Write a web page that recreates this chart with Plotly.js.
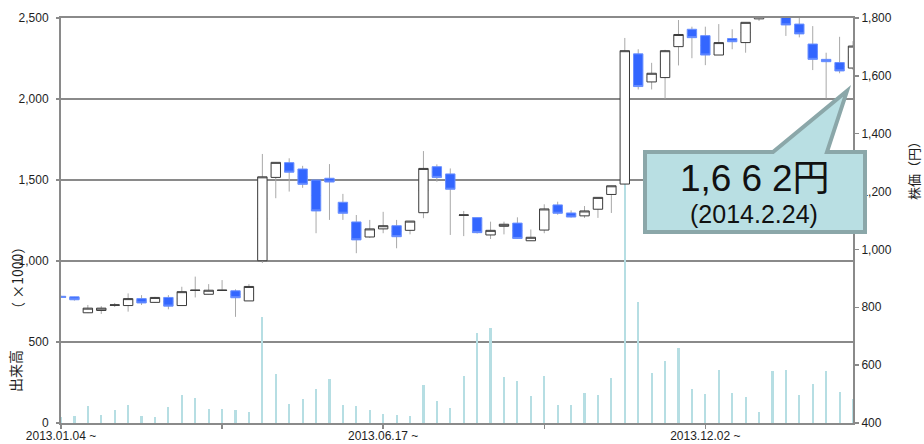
<!DOCTYPE html>
<html>
<head>
<meta charset="utf-8">
<script src="https://cdn.plot.ly/plotly-3.0.1.min.js"></script>
<style>
html,body{margin:0;padding:0;background:#fff;}
#chart{width:924px;height:444px;}
</style>
</head>
<body>
<div id="chart"></div>
<script>
// Weekly prices (円), 2013.01.04 ~ 2014.02.24
var openPrice  = [838,836,781,789,807,806,830,817,834,806,858,845,858,857,822,961,1249,1300,1278,1240,1246,1163,1095,1043,1071,1082,1066,1127,1286,1261,1118,1110,1050,1080,1091,1030,1067,1154,1126,1116,1139,1190,1226,1676,1579,1594,1701,1761,1739,1672,1729,1715,1797,1840,1830,1779,1710,1657,1646,1627];
var highPrice  = [840,836,808,804,815,848,842,836,842,871,906,880,894,862,880,1330,1301,1315,1289,1240,1295,1192,1119,1102,1130,1102,1098,1340,1294,1280,1133,1110,1096,1096,1111,1069,1156,1165,1135,1150,1180,1220,1731,1692,1645,1690,1793,1770,1770,1779,1761,1785,1860,1880,1840,1805,1772,1680,1735,1720];
var lowPrice   = [834,823,780,777,801,785,808,815,793,806,834,845,857,767,822,953,1177,1200,1213,1056,1102,1102,987,1040,1056,1004,1052,1108,1234,1050,1046,1055,1036,1052,1036,1030,1056,1120,1110,1109,1109,1126,1226,1553,1553,1521,1636,1661,1637,1672,1692,1680,1790,1820,1738,1733,1620,1522,1609,1620];
var closePrice = [834,826,797,797,808,830,815,834,804,854,859,859,859,833,872,1251,1301,1267,1225,1133,1233,1125,1033,1071,1082,1044,1098,1280,1249,1208,1119,1058,1066,1087,1038,1042,1140,1125,1112,1133,1180,1220,1687,1563,1609,1687,1743,1732,1672,1715,1718,1785,1840,1860,1776,1745,1657,1649,1617,1703];
// Weekly volume (×1000)
var volume = [40,43,105,49,80,111,43,37,97,173,154,88,86,80,68,656,304,118,148,209,272,111,105,80,56,47,43,236,136,93,290,557,586,286,261,167,290,111,111,185,173,278,1800,749,307,383,463,210,179,325,185,160,66,323,327,175,241,319,193,148];
// Category axis labels
var tickPositions = [0,12,24,36,48];
var tickLabels = ["2013.01.04 ~","","2013.06.17 ~","","2013.12.02 ~"];

var weekIdx = volume.map(function(_, i){ return i; });
var bodyTop = openPrice.map(function(o, i){ return Math.max(o, closePrice[i]); });
var bodyBot = openPrice.map(function(o, i){ return Math.min(o, closePrice[i]); });
var bodyMid = openPrice.map(function(o, i){ return (o + closePrice[i]) / 2; });

var volTrace = {
  type: 'bar', x: weekIdx, y: volume, yaxis: 'y', width: 0.16,
  marker: {color: '#b6dee3', line: {width: 0}}, hoverinfo: 'skip'
};
// wicks (high-low), drawn behind the bodies
var wickTrace = {
  type: 'candlestick', x: weekIdx, open: bodyMid, close: bodyMid,
  high: highPrice, low: lowPrice, yaxis: 'y2', whiskerwidth: 0,
  increasing: {line: {color: '#a9a9a9', width: 1}, fillcolor: 'rgba(0,0,0,0)'},
  decreasing: {line: {color: '#a9a9a9', width: 1}, fillcolor: 'rgba(0,0,0,0)'},
  hoverinfo: 'skip'
};
var bodyTrace = {
  type: 'candlestick', x: weekIdx, open: openPrice, close: closePrice,
  high: bodyTop, low: bodyBot, yaxis: 'y2', whiskerwidth: 0,
  increasing: {line: {color: '#3a3a3a', width: 1}, fillcolor: '#ffffff'},
  decreasing: {line: {color: '#6a90ff', width: 1}, fillcolor: '#3366ff'},
  hoverinfo: 'skip'
};

var L = 61, R = 853, T = 18, B = 423;
function px(x){ return (x - L) / (R - L); }
function py(y){ return (B - y) / (B - T); }

var calloutPath = 'M ' + px(645) + ',' + py(232) +
  ' L ' + px(645) + ',' + py(152) +
  ' L ' + px(773) + ',' + py(152) +
  ' L ' + px(847) + ',' + py(91) +
  ' L ' + px(827) + ',' + py(152) +
  ' L ' + px(865) + ',' + py(152) +
  ' L ' + px(865) + ',' + py(232) + ' Z';

var axisGray = '#8a8a8a';
var layout = {
  width: 924, height: 444,
  margin: {l: L, r: 924 - R, t: T, b: 444 - B, pad: 0},
  paper_bgcolor: '#ffffff', plot_bgcolor: '#ffffff',
  showlegend: false, boxgap: 0, boxmode: 'overlay', bargap: 0,
  font: {family: 'Liberation Sans, Arial, sans-serif', size: 12, color: '#1e1e1e'},
  xaxis: {
    range: [0, 59], tickmode: 'array', tickvals: tickPositions, ticktext: tickLabels,
    ticks: 'outside', ticklen: 4, tickwidth: 1.5, tickcolor: axisGray,
    ticklabelstandoff: -3,
    showgrid: false, zeroline: false, showline: true, linecolor: axisGray, linewidth: 2,
    mirror: true, rangeslider: {visible: false}, fixedrange: true,
    tickfont: {size: 12}
  },
  yaxis: {
    range: [0, 2500], dtick: 500, tickformat: ',d',
    showgrid: true, gridcolor: axisGray, gridwidth: 2,
    showline: true, linecolor: axisGray, linewidth: 2,
    ticks: 'outside', ticklen: 3, tickwidth: 1.5, tickcolor: axisGray,
    ticklabelstandoff: 5,
    zeroline: false, fixedrange: true, tickfont: {size: 12}
  },
  yaxis2: {
    range: [400, 1800], dtick: 200, tickformat: ',d', overlaying: 'y', side: 'right',
    showgrid: false, showline: true, linecolor: axisGray, linewidth: 2,
    ticks: 'outside', ticklen: 4, tickwidth: 1.5, tickcolor: axisGray,
    zeroline: false, fixedrange: true, tickfont: {size: 12}
  },
  shapes: [{
    type: 'path', xref: 'paper', yref: 'paper', path: calloutPath,
    fillcolor: '#b9dfe3', line: {color: '#8ba7a9', width: 4}, layer: 'above'
  }],
  annotations: [
    {xref: 'paper', yref: 'paper', x: px(755), y: py(178), xanchor: 'center', yanchor: 'middle',
     text: "1,<span style='letter-spacing:10px'>66</span>2円", showarrow: false,
     font: {family: 'Liberation Sans, Arial, Noto Sans CJK JP, sans-serif', size: 37, color: '#111'}},
    {xref: 'paper', yref: 'paper', x: px(754), y: py(214), xanchor: 'center', yanchor: 'middle',
     text: '(2014.2.24)', showarrow: false,
     font: {family: 'Liberation Sans, Arial, sans-serif', size: 25, color: '#111'}},
    {xref: 'paper', yref: 'paper', x: px(15), y: py(371), xanchor: 'center', yanchor: 'middle',
     text: '出来高', textangle: -90, showarrow: false,
     font: {family: 'Noto Sans CJK JP, sans-serif', size: 14, color: '#1e1e1e'}},
    {xref: 'paper', yref: 'paper', x: px(17), y: py(278), xanchor: 'center', yanchor: 'middle',
     text: '（ ×1000）', textangle: -90, showarrow: false,
     font: {family: 'Noto Sans CJK JP, sans-serif', size: 14, color: '#1e1e1e'}},
    {xref: 'paper', yref: 'paper', x: px(913), y: py(168), xanchor: 'center', yanchor: 'middle',
     text: '株価（円）', textangle: -90, showarrow: false,
     font: {family: 'Noto Sans CJK JP, sans-serif', size: 13, color: '#1e1e1e'}}
  ]
};

Plotly.newPlot('chart', [volTrace, wickTrace, bodyTrace], layout, {displayModeBar: false, staticPlot: true});
</script>
</body>
</html>
